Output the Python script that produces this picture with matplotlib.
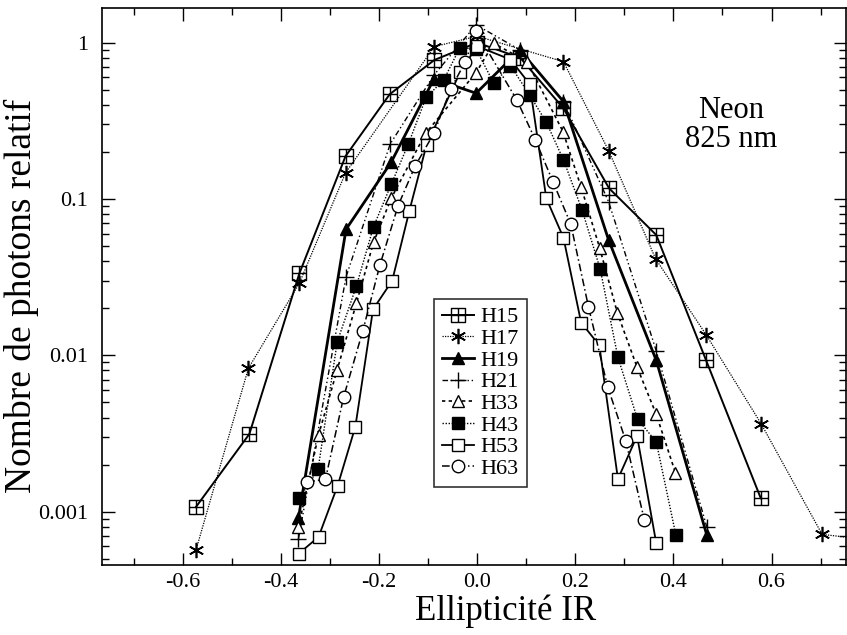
import matplotlib
matplotlib.use("Agg")
import matplotlib.pyplot as plt
from matplotlib.path import Path
from matplotlib.ticker import FixedLocator, LogLocator, NullFormatter, FixedFormatter

plt.rcParams['font.family'] = ['Liberation Serif', 'DejaVu Serif']

# ---------------- data ----------------
h15_x = [-0.573, -0.464, -0.362, -0.268, -0.178, -0.087, 0.0, 0.088, 0.176, 0.269, 0.365, 0.466, 0.578]
h15_y = [0.00107, 0.00314, 0.0335, 0.188, 0.468, 0.775, 1.0, 0.80, 0.38, 0.117, 0.0589, 0.0094, 0.00122]

h17_x = [-0.573, -0.466, -0.362, -0.268, -0.087, 0.0, 0.176, 0.268, 0.364, 0.467, 0.579, 0.703, 0.80]
h17_y = [0.000565, 0.00826, 0.029, 0.147, 0.944, 1.1, 0.756, 0.204, 0.0413, 0.0135, 0.00364, 0.000716, 0.00066]

h19_x = [-0.364, -0.267, -0.175, -0.088, -0.002, 0.087, 0.176, 0.268, 0.365, 0.468]
h19_y = [0.00091, 0.064, 0.172, 0.586, 0.475, 0.898, 0.42, 0.0547, 0.0093, 0.00071]

h21_x = [-0.364, -0.267, -0.177, -0.088, -0.002, 0.087, 0.176, 0.268, 0.365, 0.468]
h21_y = [0.00067, 0.0318, 0.225, 0.62, 1.30, 0.9, 0.42, 0.096, 0.0107, 0.0008]

h33_x = [-0.364, -0.323, -0.285, -0.246, -0.211, -0.175, -0.105, -0.002, 0.034, 0.102, 0.175, 0.212, 0.25, 0.286, 0.326, 0.365, 0.404]
h33_y = [0.0008, 0.0031, 0.0081, 0.0215, 0.0528, 0.101, 0.263, 0.644, 0.99, 0.756, 0.27, 0.119, 0.0484, 0.0186, 0.0084, 0.0042, 0.00178]

h43_x = [-0.362, -0.324, -0.285, -0.246, -0.211, -0.175, -0.14, -0.104, -0.068, -0.035, -0.002, 0.034, 0.068, 0.107, 0.141, 0.176, 0.214, 0.251, 0.287, 0.327, 0.365, 0.405]
h43_y = [0.00122, 0.00187, 0.0122, 0.0277, 0.0665, 0.124, 0.225, 0.446, 0.577, 0.93, 0.91, 0.55, 0.713, 0.463, 0.31, 0.178, 0.085, 0.0355, 0.0097, 0.0039, 0.0028, 0.00071]

h53_x = [-0.363, -0.323, -0.284, -0.248, -0.212, -0.173, -0.138, -0.103, -0.034, 0.0, 0.068, 0.107, 0.141, 0.176, 0.212, 0.249, 0.287, 0.326, 0.365]
h53_y = [0.00054, 0.00069, 0.00147, 0.0035, 0.0197, 0.030, 0.084, 0.222, 0.653, 0.95, 0.78, 0.544, 0.101, 0.0565, 0.0162, 0.0116, 0.00162, 0.00305, 0.00063]

h63_x = [-0.346, -0.309, -0.272, -0.233, -0.198, -0.161, -0.126, -0.088, -0.054, -0.024, -0.002, 0.081, 0.119, 0.155, 0.191, 0.227, 0.266, 0.303, 0.341]
h63_y = [0.00155, 0.00161, 0.0054, 0.0143, 0.0378, 0.0906, 0.163, 0.263, 0.503, 0.756, 1.18, 0.43, 0.238, 0.128, 0.069, 0.0204, 0.0063, 0.00284, 0.00088]

labels = ['H15', 'H17', 'H19', 'H21', 'H33', 'H43', 'H53', 'H63']
x_ticks = [-0.6, -0.4, -0.2, 0.0, 0.2, 0.4, 0.6]
x_ticklabels = ['-0.6', '-0.4', '-0.2', '0.0', '0.2', '0.4', '0.6']
y_ticks = [0.001, 0.01, 0.1, 1]
y_ticklabels = ['0.001', '0.01', '0.1', '1']

# ---------------- markers ----------------
sq_cross = Path(
    [(-1, -1), (1, -1), (1, 1), (-1, 1), (-1, -1), (0, -1), (0, 1), (-1, 0), (1, 0)],
    [Path.MOVETO, Path.LINETO, Path.LINETO, Path.LINETO, Path.CLOSEPOLY,
     Path.MOVETO, Path.LINETO, Path.MOVETO, Path.LINETO])

styles = [
    dict(marker=sq_cross, ls='-', lw=1.4, ms=10, mfc='none', mew=1.0),
    dict(marker=(6, 2, 0), ls=(0, (1, 1)), lw=0.9, ms=11, mew=1.2),
    dict(marker='^', ls='-', lw=2.0, ms=9, mfc='black'),
    dict(marker='+', ls=(0, (4, 2, 1, 2, 1, 2)), lw=1.0, ms=11, mew=1.0),
    dict(marker='^', ls=(0, (2, 2)), lw=1.2, ms=9, mfc='white', mew=1.0),
    dict(marker='s', ls=(0, (1, 1.2)), lw=1.0, ms=8.5, mfc='black'),
    dict(marker='s', ls='-', lw=1.3, ms=9, mfc='white', mew=1.0),
    dict(marker='o', ls=(0, (5, 2, 1, 2)), lw=1.1, ms=9, mfc='white', mew=1.0),
]

series = [(h15_x, h15_y), (h17_x, h17_y), (h19_x, h19_y), (h21_x, h21_y),
          (h33_x, h33_y), (h43_x, h43_y), (h53_x, h53_y), (h63_x, h63_y)]

fig = plt.figure(figsize=(8.47, 6.35), dpi=100)
ax = fig.add_axes([0.120, 0.110, 0.879, 0.877])

handles = []
for (xs, ys), st, lab in zip(series, styles, labels):
    h, = ax.plot(xs, ys, color='black', label=lab, **st)
    handles.append(h)

ax.set_yscale('log')
ax.set_xlim(-0.765, 0.752)
ax.set_ylim(4.55e-4, 1.66)

ax.xaxis.set_major_locator(FixedLocator(x_ticks))
ax.xaxis.set_major_formatter(FixedFormatter(x_ticklabels))
ax.xaxis.set_minor_locator(FixedLocator([-0.7, -0.5, -0.3, -0.1, 0.1, 0.3, 0.5, 0.7]))
ax.yaxis.set_major_locator(FixedLocator(y_ticks))
ax.yaxis.set_major_formatter(FixedFormatter(y_ticklabels))
ax.yaxis.set_minor_locator(LogLocator(base=10, subs=range(2, 10)))
ax.yaxis.set_minor_formatter(NullFormatter())

ax.tick_params(which='both', direction='in', top=True, right=True, labelsize=16, width=1.0)
ax.tick_params(which='major', length=9)
ax.tick_params(which='minor', length=5)
ax.tick_params(axis='x', pad=6)
ax.tick_params(axis='y', pad=10)
for sp in ax.spines.values():
    sp.set_linewidth(1.2)

ax.set_xlabel('Ellipticité IR', fontsize=25)
ax.xaxis.set_label_coords(0.542, -0.053)
ax.set_ylabel('Nombre de photons relatif', fontsize=27)
ax.yaxis.set_label_coords(-0.084, 0.483)

ax.text(0.845, 0.79, 'Neon\n825 nm', transform=ax.transAxes, ha='center', va='center',
        fontsize=22, linespacing=1.0)

leg = ax.legend(handles=handles, loc='upper left',
                bbox_to_anchor=(434 / 847, 1 - 299 / 635), bbox_transform=fig.transFigure,
                frameon=True, fancybox=False, edgecolor='black', fontsize=16,
                handlelength=1.45, handletextpad=0.3, labelspacing=0.05,
                borderpad=0.35, borderaxespad=0)
leg.get_frame().set_linewidth(1.2)

fig.savefig('out.png', dpi=100)
